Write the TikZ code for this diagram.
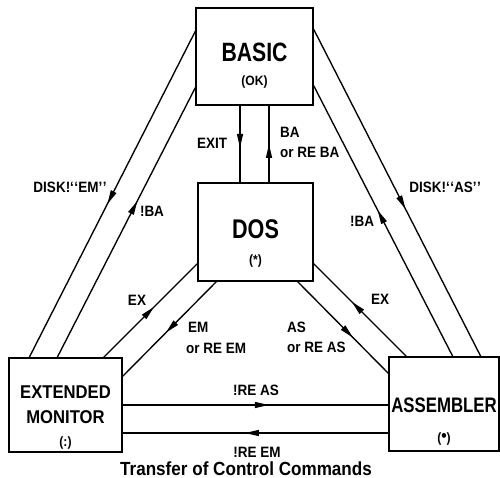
\documentclass[tikz,border=0pt]{standalone}
\usepackage{fontspec}
\setmainfont{Liberation Sans}
% condensed bold faces for the box titles and the command labels
\newfontfamily\tfont{Liberation Sans}[FakeStretch=0.8]
\newfontfamily\lfont{Liberation Sans}[FakeStretch=0.9]
\usetikzlibrary{arrows.meta,decorations.markings}

\tikzset{
  box/.style={draw, line width=1.4pt, inner sep=0pt},
  wire/.style={line width=1.35pt},
  midarrow/.style={postaction={decorate}, decoration={markings,
      mark=at position #1 with {\arrow{Triangle[length=14pt,width=6pt]}}}},
  txt/.style={inner sep=0pt, anchor=base},
  lbl/.style={txt, font=\lfont\bfseries\fontsize{15}{17}\selectfont},
  lblw/.style={lbl, anchor=base west},
  sub/.style={txt, font=\lfont\bfseries\fontsize{13.5}{15}\selectfont},
}
% single opening and closing quote marks, kept apart
\newcommand\openqq{‘\kern0.5pt‘}
\newcommand\closeqq{’\kern0.5pt’}

\begin{document}
\begin{tikzpicture}[x=1pt, y=-1pt]
\useasboundingbox (0,0) rectangle (500,478);

% the four program boxes
\node[box, minimum width=117pt, minimum height=97pt] (basic) at (254.5,56.5) {};
\node[box, minimum width=115pt, minimum height=98pt] (dos) at (255.5,232) {};
\node[box, minimum width=113pt, minimum height=94pt] (em) at (65.5,405) {};
\node[box, minimum width=110pt, minimum height=94pt] (asm) at (444,404) {};

% box contents
\node[txt, font=\tfont\bfseries\fontsize{26.5}{28}\selectfont] (basicT) at (254.5,62) {BASIC};
\node[sub] (basicS) at (254.5,86) {(OK)};
\node[txt, font=\tfont\bfseries\fontsize{27}{28}\selectfont] (dosT) at (255.5,238) {DOS};
\node[sub] (dosS) at (255.5,264) {(*)};
\node[txt, font=\lfont\bfseries\fontsize{18.5}{20}\selectfont] (emT1) at (65.5,398) {EXTENDED};
\node[txt, font=\lfont\bfseries\fontsize{18.5}{20}\selectfont] (emT2) at (65.5,423) {MONITOR};
\node[sub] (emS) at (65.5,446) {(:)};
\node[txt, font=\tfont\bfseries\fontsize{21}{22}\selectfont] (asmT) at (444,412) {ASSEMBLER};
\node[sub] (asmS) at (444,442) {(\raisebox{0.5pt}{\fontsize{17}{17}\selectfont•})};

% BASIC <-> DOS
\draw[wire, midarrow=0.55] ([xshift=-14.5pt]basic.south) -- ([xshift=-14.5pt]basic.south |- dos.north);
\draw[wire, midarrow=0.5] ([xshift=14.5pt]basic.south |- dos.north) -- ([xshift=14.5pt]basic.south);

% BASIC <-> EXTENDED MONITOR
\draw[wire, midarrow=0.53] ([yshift=-24pt]basic.north west) -- ([xshift=21pt]em.north west);
\draw[wire, midarrow=0.58] ([xshift=49pt]em.north west) -- ([yshift=18pt]basic.south west);

% BASIC <-> ASSEMBLER
\draw[wire, midarrow=0.55] ([yshift=-22pt]basic.north east) -- ([xshift=-19pt]asm.north east);
\draw[wire, midarrow=0.54] ([xshift=-47pt]asm.north east) -- ([yshift=20pt]basic.south east);

% DOS <-> EXTENDED MONITOR
\draw[wire, midarrow=0.54] ([xshift=-19pt]em.north east) -- ([yshift=18pt]dos.south west);
\draw[wire, midarrow=0.54] ([xshift=19pt]dos.south west) -- ([yshift=-19pt]em.north east);

% DOS <-> ASSEMBLER
\draw[wire, midarrow=0.59] ([xshift=18pt]asm.north west) -- ([yshift=18pt]dos.south east);
\draw[wire, midarrow=0.61] ([xshift=-16pt]dos.south east) -- ([yshift=-17pt]asm.north west);

% EXTENDED MONITOR <-> ASSEMBLER
\draw[wire, midarrow=0.55] (em.east) -- (em.east -| asm.west);
\draw[wire, midarrow=0.54] ([yshift=-28pt]em.east -| asm.west) -- ([yshift=-28pt]em.east);

% command labels
\node[lbl] (lExit) at (212,149) {EXIT};
\node[lblw] (lBa1) at (280,138) {BA};
\node[lblw] (lBa2) at (280,158) {or RE BA};
\node[lbl] (lDiskEm) at (70,193) {DISK!\openqq EM\closeqq};
\node[lbl] (lBaL) at (152,217) {!BA};
\node[lbl] (lExL) at (137,305) {EX};
\node[lblw] (lEm1) at (188,332) {EM};
\node[lblw] (lEm2) at (186,353) {or RE EM};
\node[lbl] (lDiskAs) at (445,193) {DISK!\openqq AS\closeqq};
\node[lbl] (lBaR) at (362,227) {!BA};
\node[lbl] (lExR) at (380,304) {EX};
\node[lblw] (lAs1) at (287,332) {AS};
\node[lblw] (lAs2) at (287,352) {or RE AS};
\node[lbl] (lReAs) at (256,395) {!RE AS};
\node[lbl] (lReEm) at (257,457) {!RE EM};

% caption
\node[txt, font=\lfont\bfseries\fontsize{19}{21}\selectfont] (caption) at (246,475) {Transfer of Control Commands};
\end{tikzpicture}
\end{document}
